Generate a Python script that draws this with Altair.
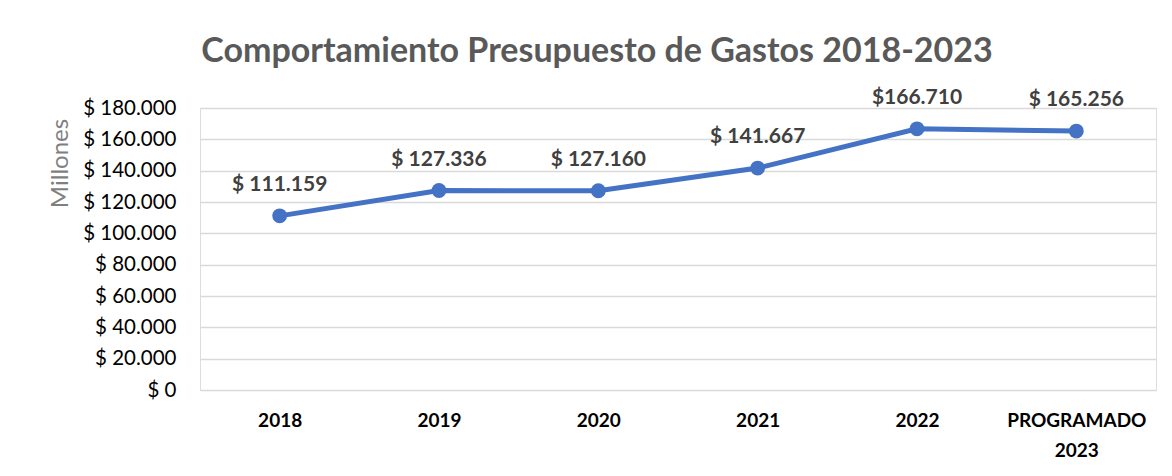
import altair as alt
import pandas as pd

categories = ["2018", "2019", "2020", "2021", "2022", "PROGRAMADO 2023"]
values = [111159, 127336, 127160, 141667, 166710, 165256]
value_labels = ["$ 111.159", "$ 127.336", "$ 127.160", "$ 141.667", "$166.710", "$ 165.256"]
y_ticks = [0, 20000, 40000, 60000, 80000, 100000, 120000, 140000, 160000, 180000]

df = pd.DataFrame({"cat": categories, "val": values, "lab": value_labels})

FONT = "Lato"

x_enc = alt.X(
    "cat:N",
    sort=categories,
    scale=alt.Scale(paddingInner=0, paddingOuter=0.5),
    axis=alt.Axis(
        title=None,
        labelAngle=0,
        labelFont=FONT,
        labelFontWeight="bold",
        labelFontSize=19,
        labelColor="#000000",
        labelPadding=21,
        labelLineHeight=30,
        labelExpr="datum.value == 'PROGRAMADO 2023' ? ['PROGRAMADO', '2023'] : datum.value",
        domain=False,
        ticks=False,
        grid=False,
    ),
)

y_enc = alt.Y(
    "val:Q",
    scale=alt.Scale(domain=[0, 180000], nice=False),
    axis=alt.Axis(
        title="Millones",
        titleFont=FONT,
        titleFontWeight="normal",
        titleFontSize=24,
        titleColor="#7f7f7f",
        titleAngle=-90,
        titleAlign="center",
        titleBaseline="middle",
        titleX=-140,
        titleY=55,
        values=y_ticks,
        labelExpr="'$ ' + replace(format(datum.value, ',.0f'), /,/g, '.')",
        labelFont=FONT,
        labelFontSize=20.5,
        labelColor="#000000",
        labelPadding=24,
        domain=False,
        ticks=False,
        grid=True,
        gridColor="#d9d9d9",
        gridWidth=1.5,
    ),
)

base = alt.Chart(df)

line = base.mark_line(color="#4472C4", strokeWidth=5).encode(x=x_enc, y=y_enc)
points = base.mark_circle(color="#4472C4", size=220, opacity=1).encode(x=x_enc, y=y_enc)
text = base.mark_text(
    dy=-31, font=FONT, fontWeight="bold", fontSize=21, color="#404040"
).encode(x=x_enc, y=y_enc, text="lab:N")

chart = (
    alt.layer(line, points, text)
    .properties(
        width=956,
        height=282,
        title=alt.TitleParams(
            "Comportamiento Presupuesto de Gastos 2018-2023",
            font=FONT,
            fontSize=34,
            fontWeight="bold",
            color="#595959",
            anchor="middle",
            dx=-81,
            offset=18,
        ),
        autosize=alt.AutoSizeParams(type="none"),
        padding={"left": 192, "top": 100, "right": 8, "bottom": 78},
    )
    .configure_view(stroke=None)
    .configure(background="white")
)

chart.save("out.html", embed_options={"renderer": "svg", "actions": False})
